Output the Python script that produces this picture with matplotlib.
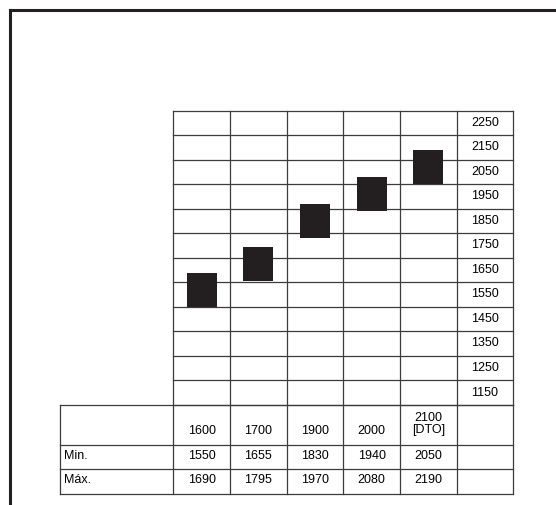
import matplotlib.pyplot as plt
from matplotlib.lines import Line2D

plt.rcParams['font.family'] = ['Liberation Sans', 'DejaVu Sans']

# data
categories = ['1600', '1700', '1900', '2000', '2100\n[DTO]']
mins = [1550, 1655, 1830, 1940, 2050]
maxs = [1690, 1795, 1970, 2080, 2190]
scale_labels = [2250, 2150, 2050, 1950, 1850, 1750, 1650, 1550, 1450, 1350, 1250, 1150]
row_names = ['Min.', 'Máx.']

W, H = 556, 506
dark = '#231f20'
grid = '#3c3c3c'
fs = 9

fig = plt.figure(figsize=(W / 100, H / 100), dpi=100)

# outer frame (top + left)
fx, fy = 9.7 / W, 1 - 10.5 / H
fig.add_artist(Line2D([fx, 1], [fy, fy], color=dark, lw=2.2, transform=fig.transFigure))
fig.add_artist(Line2D([fx, fx], [0, fy], color=dark, lw=2.2, transform=fig.transFigure))

# upper chart
x0, x1 = 173.3, 513.3
yt, yb = 111.7, 406
ax = fig.add_axes([x0 / W, 1 - yb / H, (x1 - x0) / W, (yb - yt) / H])
ax.set_xlim(-0.5, 5.5)
ax.set_ylim(1150, 2350)
ax.axis('off')

for v in range(1150, 2351, 100):
    ax.plot([-0.5, 5.5], [v, v], color=grid, lw=0.9, clip_on=False)
for i in range(7):
    ax.plot([i - 0.5, i - 0.5], [1150, 2350], color=grid, lw=0.9, clip_on=False)

xs = list(range(len(categories)))
heights = [b - a for a, b in zip(mins, maxs)]
ax.bar(xs, heights, bottom=mins, width=0.53, color=dark, zorder=3)

for lab in scale_labels:
    ax.text(5, lab + 55, str(lab), ha='center', va='center', fontsize=fs)

# lower table
lx0, lyb = 60.0, 495
tb = fig.add_axes([lx0 / W, 1 - lyb / H, (x1 - lx0) / W, (lyb - yb) / H])
tb.set_xlim(-2.5, 5.5)
tb.set_ylim(89, 0)
tb.axis('off')

rows = [0, 40, 64, 89]
for r in rows:
    tb.plot([-2.5, 5.5], [r, r], color=grid, lw=0.9, clip_on=False)
for xv in [-2.5] + [i - 0.5 for i in range(7)]:
    tb.plot([xv, xv], [0, 89], color=grid, lw=0.9, clip_on=False)

for i, c in enumerate(categories):
    yc = 18 if '\n' in c else 25
    tb.text(i, yc, c, ha='center', va='center', fontsize=fs, linespacing=1.0)
    tb.text(i, 50.5, str(mins[i]), ha='center', va='center', fontsize=fs)
    tb.text(i, 74.5, str(maxs[i]), ha='center', va='center', fontsize=fs)

tb.text(-2.43, 50.5, row_names[0], ha='left', va='center', fontsize=fs)
tb.text(-2.43, 74.5, row_names[1], ha='left', va='center', fontsize=fs)

fig.savefig('out.png', dpi=100)
